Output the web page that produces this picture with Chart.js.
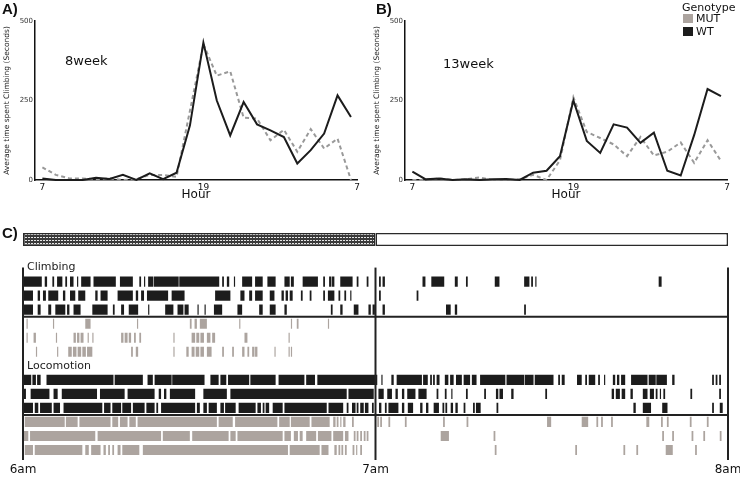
<!DOCTYPE html>
<html>
<head>
<meta charset="utf-8">
<script src="https://cdn.jsdelivr.net/npm/chart.js@4.4.1/dist/chart.umd.min.js"></script>
<style>
  body { margin: 0; background: #fff; font-family: "DejaVu Sans", sans-serif; }
  #fig { position: relative; width: 740px; height: 479px; overflow: hidden; }
  canvas { position: absolute; }
  .lbl { position: absolute; white-space: nowrap; color: #111; line-height: 1; }
  .panel { font-family: "Liberation Sans", Arial, sans-serif; font-weight: bold; font-size: 15px; }
  .week { font-size: 13px; }
  .key { font-size: 11px; }
  .sw { position: absolute; width: 10px; height: 9px; }
</style>
</head>
<body>
<div id="fig">
  <canvas id="chartA" width="370" height="205" style="left:0;top:0"></canvas>
  <canvas id="chartB" width="370" height="205" style="left:370px;top:0"></canvas>
  <canvas id="chartC" width="740" height="264" style="left:0;top:215px"></canvas>
  <div class="lbl panel" style="left:2px;top:1px">A)</div>
  <div class="lbl panel" style="left:376px;top:1px">B)</div>
  <div class="lbl panel" style="left:2px;top:225px">C)</div>
  <div class="lbl week" style="left:65px;top:54px">8week</div>
  <div class="lbl week" style="left:443px;top:57px">13week</div>
  <div id="legend"></div>
</div>
<script>
// hourly averages, panels A and B
const hours = [7, 8, 9, 10, 11, 12, 13, 14, 15, 16, 17, 18, 19, 20, 21, 22, 23, 24, 25, 26, 27, 28, 29, 30];
const hourTickValues = [7, 19, 30.45];
const hourTickLabels = ['7', '19', '7'];
const genotypes = ['MUT', 'WT'];

const wt8 = [5, 0, 0, 0, 7, 3, 16, 0, 21, 3, 23, 172, 432, 250, 140, 245, 175, 156, 135, 52, 94, 146, 266, 198];
const mut8 = [40, 16, 5, 5, 2, 5, 0, 3, 16, 16, 10, 218, 427, 328, 342, 196, 193, 125, 158, 89, 160, 99, 130, 0];
const wt13 = [26, 2, 5, 0, 2, 0, 2, 3, 0, 23, 29, 75, 250, 123, 85, 175, 165, 117, 149, 29, 14, 141, 286, 264];
const mut13 = [0, 0, 5, 0, 2, 8, 0, 0, 2, 16, 0, 62, 260, 151, 132, 112, 75, 135, 77, 89, 118, 54, 125, 60];

// ethogram, panel C: bouts as [start, end] in minutes after 6am
const timeTicks = [0, 60, 120];
const timeLabels = ['6am', '7am', '8am'];
const lightPhases = [[0, 60], [60, 120]];

const climbWT1 = [[0.1,3.2],[3.7,4.1],[5.0,5.3],[5.8,6.7],[7.2,7.5],[8.0,8.6],[9.2,9.4],[9.9,11.5],[12.0,15.8],[16.5,18.7],[19.8,20.1],[20.6,20.8],[21.3,22.2],[22.3,26.5],[26.6,33.4],[33.9,34.2],[34.7,35.1],[35.9,36.1],[37.3,39.0],[39.5,40.8],[41.6,43.0],[44.5,45.4],[45.6,46.1],[47.6,50.2],[51.1,51.4],[52.1,52.5],[52.6,53.0],[54.0,56.1],[56.8,57.1],[58.5,58.8],[60.6,60.9],[61.2,61.6],[68.0,68.5],[69.5,71.7],[73.5,74.0],[75.4,75.7],[80.3,81.1],[85.3,86.2],[86.5,86.8],[87.2,87.4],[108.2,108.7]];
const climbWT2 = [[0,1.7],[2.5,2.9],[3.4,3.9],[4.3,6.0],[6.8,7.2],[8.0,8.9],[9.4,10.6],[12.3,12.7],[13.2,14.4],[16.1,18.7],[19.2,19.6],[20.1,20.6],[21.1,24.7],[25.3,27.5],[32.7,35.3],[37.0,37.7],[38.5,39.0],[39.5,40.8],[42.0,42.8],[44.0,44.4],[44.7,45.1],[45.4,45.9],[47.3,47.6],[48.8,49.1],[51.1,51.4],[51.9,53.0],[53.7,54.0],[54.7,55.0],[55.7,55.9],[60.6,60.9],[67.0,67.3]];
const climbWT3 = [[0,1.7],[2.5,3.0],[4.3,4.8],[5.5,7.2],[7.5,7.9],[8.6,9.8],[11.8,14.4],[15.3,15.6],[16.7,17.2],[18.0,19.6],[21.3,21.5],[24.2,25.6],[26.3,27.3],[27.5,28.2],[29.7,29.9],[30.9,31.1],[32.5,33.9],[36.5,37.3],[40.2,40.8],[42.0,43.0],[44.5,44.9],[52.4,52.7],[54.0,54.4],[56.3,57.1],[58.8,59.2],[59.5,59.9],[61.2,61.6],[72.0,72.8],[73.5,73.9],[85.3,85.6]];
const climbMUT1 = [[0.6,0.8],[5.1,5.3],[10.6,11.5],[19.4,19.6],[28.4,28.7],[29.2,29.6],[30.1,31.3],[36.8,37.0],[45.6,45.8],[46.6,46.9],[51.9,52.1]];
const climbMUT2 = [[0.6,0.8],[1.8,2.2],[5.6,5.8],[8.6,9.0],[9.2,9.6],[9.8,10.3],[11.0,11.2],[11.8,12.0],[16.7,17.1],[17.3,17.8],[18.0,18.4],[18.9,19.2],[19.8,20.1],[25.6,25.8],[28.7,29.3],[29.5,30.0],[30.2,30.8],[31.3,31.9],[32.2,32.7],[37.7,38.2],[45.2,45.4]];
const climbMUT3 = [[2.2,2.4],[5.8,6.0],[7.7,8.3],[8.5,9.1],[9.3,9.9],[10.1,10.7],[10.9,11.8],[18.4,18.7],[19.2,19.6],[25.6,25.8],[27.8,28.2],[28.7,29.2],[29.4,30.0],[30.2,30.8],[31.3,32.1],[33.9,34.2],[35.6,35.9],[37.3,37.7],[38.2,38.5],[39.0,39.4],[39.5,39.9],[42.8,43.0],[45.2,45.4],[45.6,45.8]];

const locoWT1 = [[0,1.4],[1.6,2.2],[2.4,3.0],[4.0,15.4],[15.6,20.4],[21.2,22.1],[22.4,25.3],[25.4,30.9],[31.9,33.3],[33.6,34.6],[34.9,38.5],[38.7,43.0],[43.5,47.9],[48.2,49.7],[50.1,60.3],[61.0,61.2],[62.7,63.1],[63.6,67.9],[68.1,68.9],[69.3,69.6],[69.8,70.1],[70.4,70.9],[71.8,72.4],[72.7,73.3],[73.7,74.7],[75.0,76.1],[76.4,77.2],[77.8,82.1],[82.3,85.3],[85.4,86.9],[87.1,90.3],[91.1,91.4],[91.7,92.2],[94.3,95.1],[95.7,96.0],[96.3,97.4],[97.9,98.2],[98.9,99.1],[100.4,100.8],[101.1,101.5],[101.8,102.5],[103.5,106.3],[106.5,107.7],[107.8,109.6],[110.5,110.9],[117.3,117.6],[117.9,118.2],[118.5,118.8]];
const locoWT2 = [[0,0.5],[1.3,4.5],[5.2,5.9],[6.6,12.6],[13.1,17.3],[17.8,22.4],[23.1,23.5],[24.0,24.4],[25.0,29.3],[30.7,34.7],[35.3,55.1],[55.4,59.7],[60.5,61.4],[62.0,62.8],[63.4,63.8],[64.5,64.9],[65.4,66.8],[67.3,68.7],[70.4,70.7],[71.8,72.1],[72.9,73.1],[75.4,75.7],[78.5,78.8],[80.5,80.9],[81.1,81.7],[83.1,83.5],[88.9,89.2],[100.2,100.6],[100.9,101.6],[101.9,102.5],[103.4,103.8],[105.5,106.3],[106.7,107.4],[107.7,108.0],[108.4,108.6],[109.0,109.3],[113.6,113.9],[118.5,118.8]];
const locoWT3 = [[0,1.7],[2.0,2.6],[2.9,4.9],[5.2,6.3],[6.9,13.5],[13.8,14.9],[15.2,16.7],[16.9,18.4],[18.7,20.7],[21.0,22.4],[22.7,23.0],[23.5,29.3],[29.6,30.1],[30.7,31.3],[31.6,33.0],[33.6,34.2],[34.4,36.2],[36.7,39.6],[39.9,40.5],[40.8,41.1],[41.3,41.9],[42.5,44.2],[44.5,51.7],[52.0,54.5],[55.1,55.4],[56.0,56.6],[56.8,57.1],[57.4,58.0],[58.2,58.8],[59.4,59.7],[60.6,61.0],[61.6,61.9],[62.2,63.9],[64.5,64.9],[65.5,66.4],[67.6,68.0],[68.6,69.0],[69.9,70.8],[71.4,71.7],[71.9,72.2],[72.8,73.2],[73.6,74.0],[75.0,75.3],[76.6,76.9],[77.1,77.9],[80.6,80.9],[103.9,104.3],[105.5,106.9],[108.8,109.7],[117.3,117.6],[118.6,119.1]];
const locoMUT1 = [[0.3,7.1],[7.3,9.3],[9.6,14.9],[15.2,16.2],[16.5,17.8],[18.1,19.2],[19.5,33.0],[33.3,35.7],[36.1,43.3],[43.6,45.4],[45.6,48.8],[49.1,52.2],[52.8,53.2],[53.4,53.7],[54.0,54.2],[54.5,54.9],[56.0,56.3],[60.3,60.6],[60.8,61.1],[62.2,62.5],[65.0,65.3],[71.5,71.8],[75.5,75.8],[89.2,89.9],[95.1,96.2],[97.6,97.9],[98.4,98.7],[100.1,100.4],[106.1,106.6],[108.6,108.9],[109.6,109.9],[113.5,113.8],[116.4,116.7]];
const locoMUT2 = [[0,0.9],[1.2,12.3],[12.7,23.5],[23.8,28.4],[28.8,35.0],[35.3,36.2],[36.5,44.2],[44.5,45.6],[46.1,46.8],[47.1,47.6],[48.2,49.9],[50.2,52.5],[52.8,54.5],[54.8,55.4],[56.3,56.6],[56.8,57.1],[57.4,57.7],[58.0,58.3],[58.5,58.8],[71.1,72.5],[80.1,80.4],[108.8,109.1],[110.5,110.8],[113.8,114.1],[115.8,116.1],[118.6,118.9]];
const locoMUT3 = [[0.3,1.7],[2.0,10.1],[10.6,11.2],[11.6,13.2],[13.7,14.1],[14.5,14.8],[15.2,15.5],[16.1,16.6],[16.9,19.8],[20.4,45.1],[45.4,50.5],[50.8,52.0],[53.0,53.4],[53.7,54.0],[54.2,54.5],[54.8,55.1],[56.1,56.4],[56.7,56.9],[57.4,57.7],[80.3,80.6],[94.0,94.3],[102.2,102.5],[104.4,104.7],[109.4,110.6],[114.4,114.7]];

const rowKeys = ['Light', 'spacer', 'Climbing', 'cWT1', 'cWT2', 'cWT3', 'cMUT1', 'cMUT2', 'cMUT3',
                 'Locomotion', 'lWT1', 'lWT2', 'lWT3', 'lMUT1', 'lMUT2', 'lMUT3'];

const WT_COLOR = '#1c1c1c';
const MUT_COLOR = '#aca49f';
const MUT_LINE = '#999999';

Chart.defaults.font.family = '"DejaVu Sans", sans-serif';
Chart.defaults.color = '#111';

function makeLineChart(id, wt, mut) {
  const pts = vals => hours.map((h, i) => ({ x: h, y: vals[i] }));
  return new Chart(document.getElementById(id), {
    type: 'line',
    data: {
      datasets: [
        { label: 'MUT', data: pts(mut), borderColor: MUT_LINE, borderWidth: 2, borderDash: [4, 3],
          pointRadius: 0, order: 1, clip: false },
        { label: 'WT', data: pts(wt), borderColor: WT_COLOR, borderWidth: 2,
          pointRadius: 0, order: 0, clip: false }
      ]
    },
    options: {
      responsive: false,
      animation: false,
      layout: { padding: { left: 0, right: 13, top: 21, bottom: 0 } },
      plugins: { legend: { display: false }, tooltip: { enabled: false } },
      scales: {
        x: {
          type: 'linear', min: 6.45, max: 30.45,
          afterBuildTicks: s => { s.ticks = hourTickValues.map(v => ({ value: v })); },
          afterFit: s => { s.height = 25; s.paddingLeft = 0; s.paddingRight = 0; },
          grid: { display: false, drawTicks: false },
          border: { color: '#111', width: 1.5 },
          ticks: { padding: 2, font: { size: 9 }, autoSkip: false, maxRotation: 0,
                   callback: (v, i) => hourTickLabels[i] },
          title: { display: true, text: 'Hour', font: { size: 12 }, padding: { top: 0, bottom: 3 } }
        },
        y: {
          min: 0, max: 500,
          afterFit: s => { s.width = 35; },
          grid: { display: false, drawTicks: false },
          border: { color: '#111', width: 1.5 },
          ticks: { stepSize: 250, padding: 2, color: '#333', font: { size: 7 } },
          title: { display: true, text: 'Average time spent Climbing (Seconds)', color: '#222',
                   font: { size: 7.5 }, padding: { top: 2.5, bottom: 0 } }
        }
      }
    }
  });
}

makeLineChart('chartA', wt8, mut8);
makeLineChart('chartB', wt13, mut13);

// legend (panel B)
const legend = document.getElementById('legend');
legend.innerHTML = '<div class="lbl key" style="left:682px;top:2px">Genotype</div>' +
  genotypes.map((g, i) =>
    `<div class="sw" style="left:683px;top:${14 + i * 13}px;background:${g === 'WT' ? WT_COLOR : MUT_COLOR}"></div>` +
    `<div class="lbl key" style="left:696px;top:${13 + i * 13}px">${g}</div>`).join('');

// ethogram
const canvasC = document.getElementById('chartC');
function darkPattern(ctx) {
  const c = document.createElement('canvas');
  c.width = 3; c.height = 3;
  const g = c.getContext('2d');
  g.fillStyle = '#3a3a3a';
  g.fillRect(0, 0, 3, 3);
  g.fillStyle = '#e6e6e6';
  g.fillRect(1, 1, 2, 1);
  return ctx.createPattern(c, 'repeat');
}

const toBars = (rows, keys) => rows.flatMap((row, r) => row.map(([s, e]) => ({ x: [s, e], y: keys[r] })));

const ethogramFrame = {
  id: 'ethogramFrame',
  afterDatasetsDraw(chart) {
    const { ctx, scales: { x, y } } = chart;
    const py = k => y.getPixelForValue(rowKeys.indexOf(k));
    ctx.save();
    ctx.strokeStyle = '#222';
    ctx.lineWidth = 2;
    const top = py('Climbing');
    const bottom = y.bottom + 3;
    timeTicks.forEach(t => {
      const px = x.getPixelForValue(t);
      ctx.beginPath(); ctx.moveTo(px, top); ctx.lineTo(px, bottom); ctx.stroke();
    });
    [['cWT3', 'cMUT1'], ['lWT3', 'lMUT1']].forEach(([a, b]) => {
      const yy = (py(a) + py(b)) / 2;
      ctx.beginPath(); ctx.moveTo(x.left, yy); ctx.lineTo(x.right, yy); ctx.stroke();
    });
    ctx.fillStyle = '#222';
    ctx.font = '11px "DejaVu Sans"';
    ctx.textBaseline = 'middle';
    ['Climbing', 'Locomotion'].forEach(k => ctx.fillText(k, x.left + 4, py(k)));
    ctx.restore();
  }
};

new Chart(canvasC, {
  type: 'bar',
  data: {
    datasets: [
      { label: 'Light', data: lightPhases.map(([s, e]) => ({ x: [s, e], y: 'Light' })),
        backgroundColor: [darkPattern(canvasC.getContext('2d')), '#ffffff'],
        borderColor: '#2a2a2a', borderWidth: 1.5, borderSkipped: false, barPercentage: 0.93 },
      { label: 'WT',
        data: toBars([climbWT1, climbWT2, climbWT3, locoWT1, locoWT2, locoWT3],
                     ['cWT1', 'cWT2', 'cWT3', 'lWT1', 'lWT2', 'lWT3']),
        backgroundColor: WT_COLOR },
      { label: 'MUT',
        data: toBars([climbMUT1, climbMUT2, climbMUT3, locoMUT1, locoMUT2, locoMUT3],
                     ['cMUT1', 'cMUT2', 'cMUT3', 'lMUT1', 'lMUT2', 'lMUT3']),
        backgroundColor: MUT_COLOR }
    ]
  },
  options: {
    indexAxis: 'y',
    responsive: false,
    animation: false,
    layout: { padding: { left: 23, right: 12, top: 17.5, bottom: 0 } },
    datasets: { bar: { grouped: false, categoryPercentage: 1, barPercentage: 0.72, borderWidth: 0 } },
    plugins: { legend: { display: false }, tooltip: { enabled: false } },
    scales: {
      y: { type: 'category', labels: rowKeys, display: false },
      x: {
        type: 'linear', min: 0, max: 120,
        afterBuildTicks: s => { s.ticks = timeTicks.map(v => ({ value: v })); },
        afterFit: s => { s.height = 22; s.paddingLeft = 0; s.paddingRight = 0; },
        grid: { display: false, drawTicks: false },
        border: { display: false },
        ticks: { padding: 6, font: { size: 12 }, autoSkip: false, maxRotation: 0,
                 callback: (v, i) => timeLabels[i] }
      }
    }
  },
  plugins: [ethogramFrame]
});
</script>
</body>
</html>
